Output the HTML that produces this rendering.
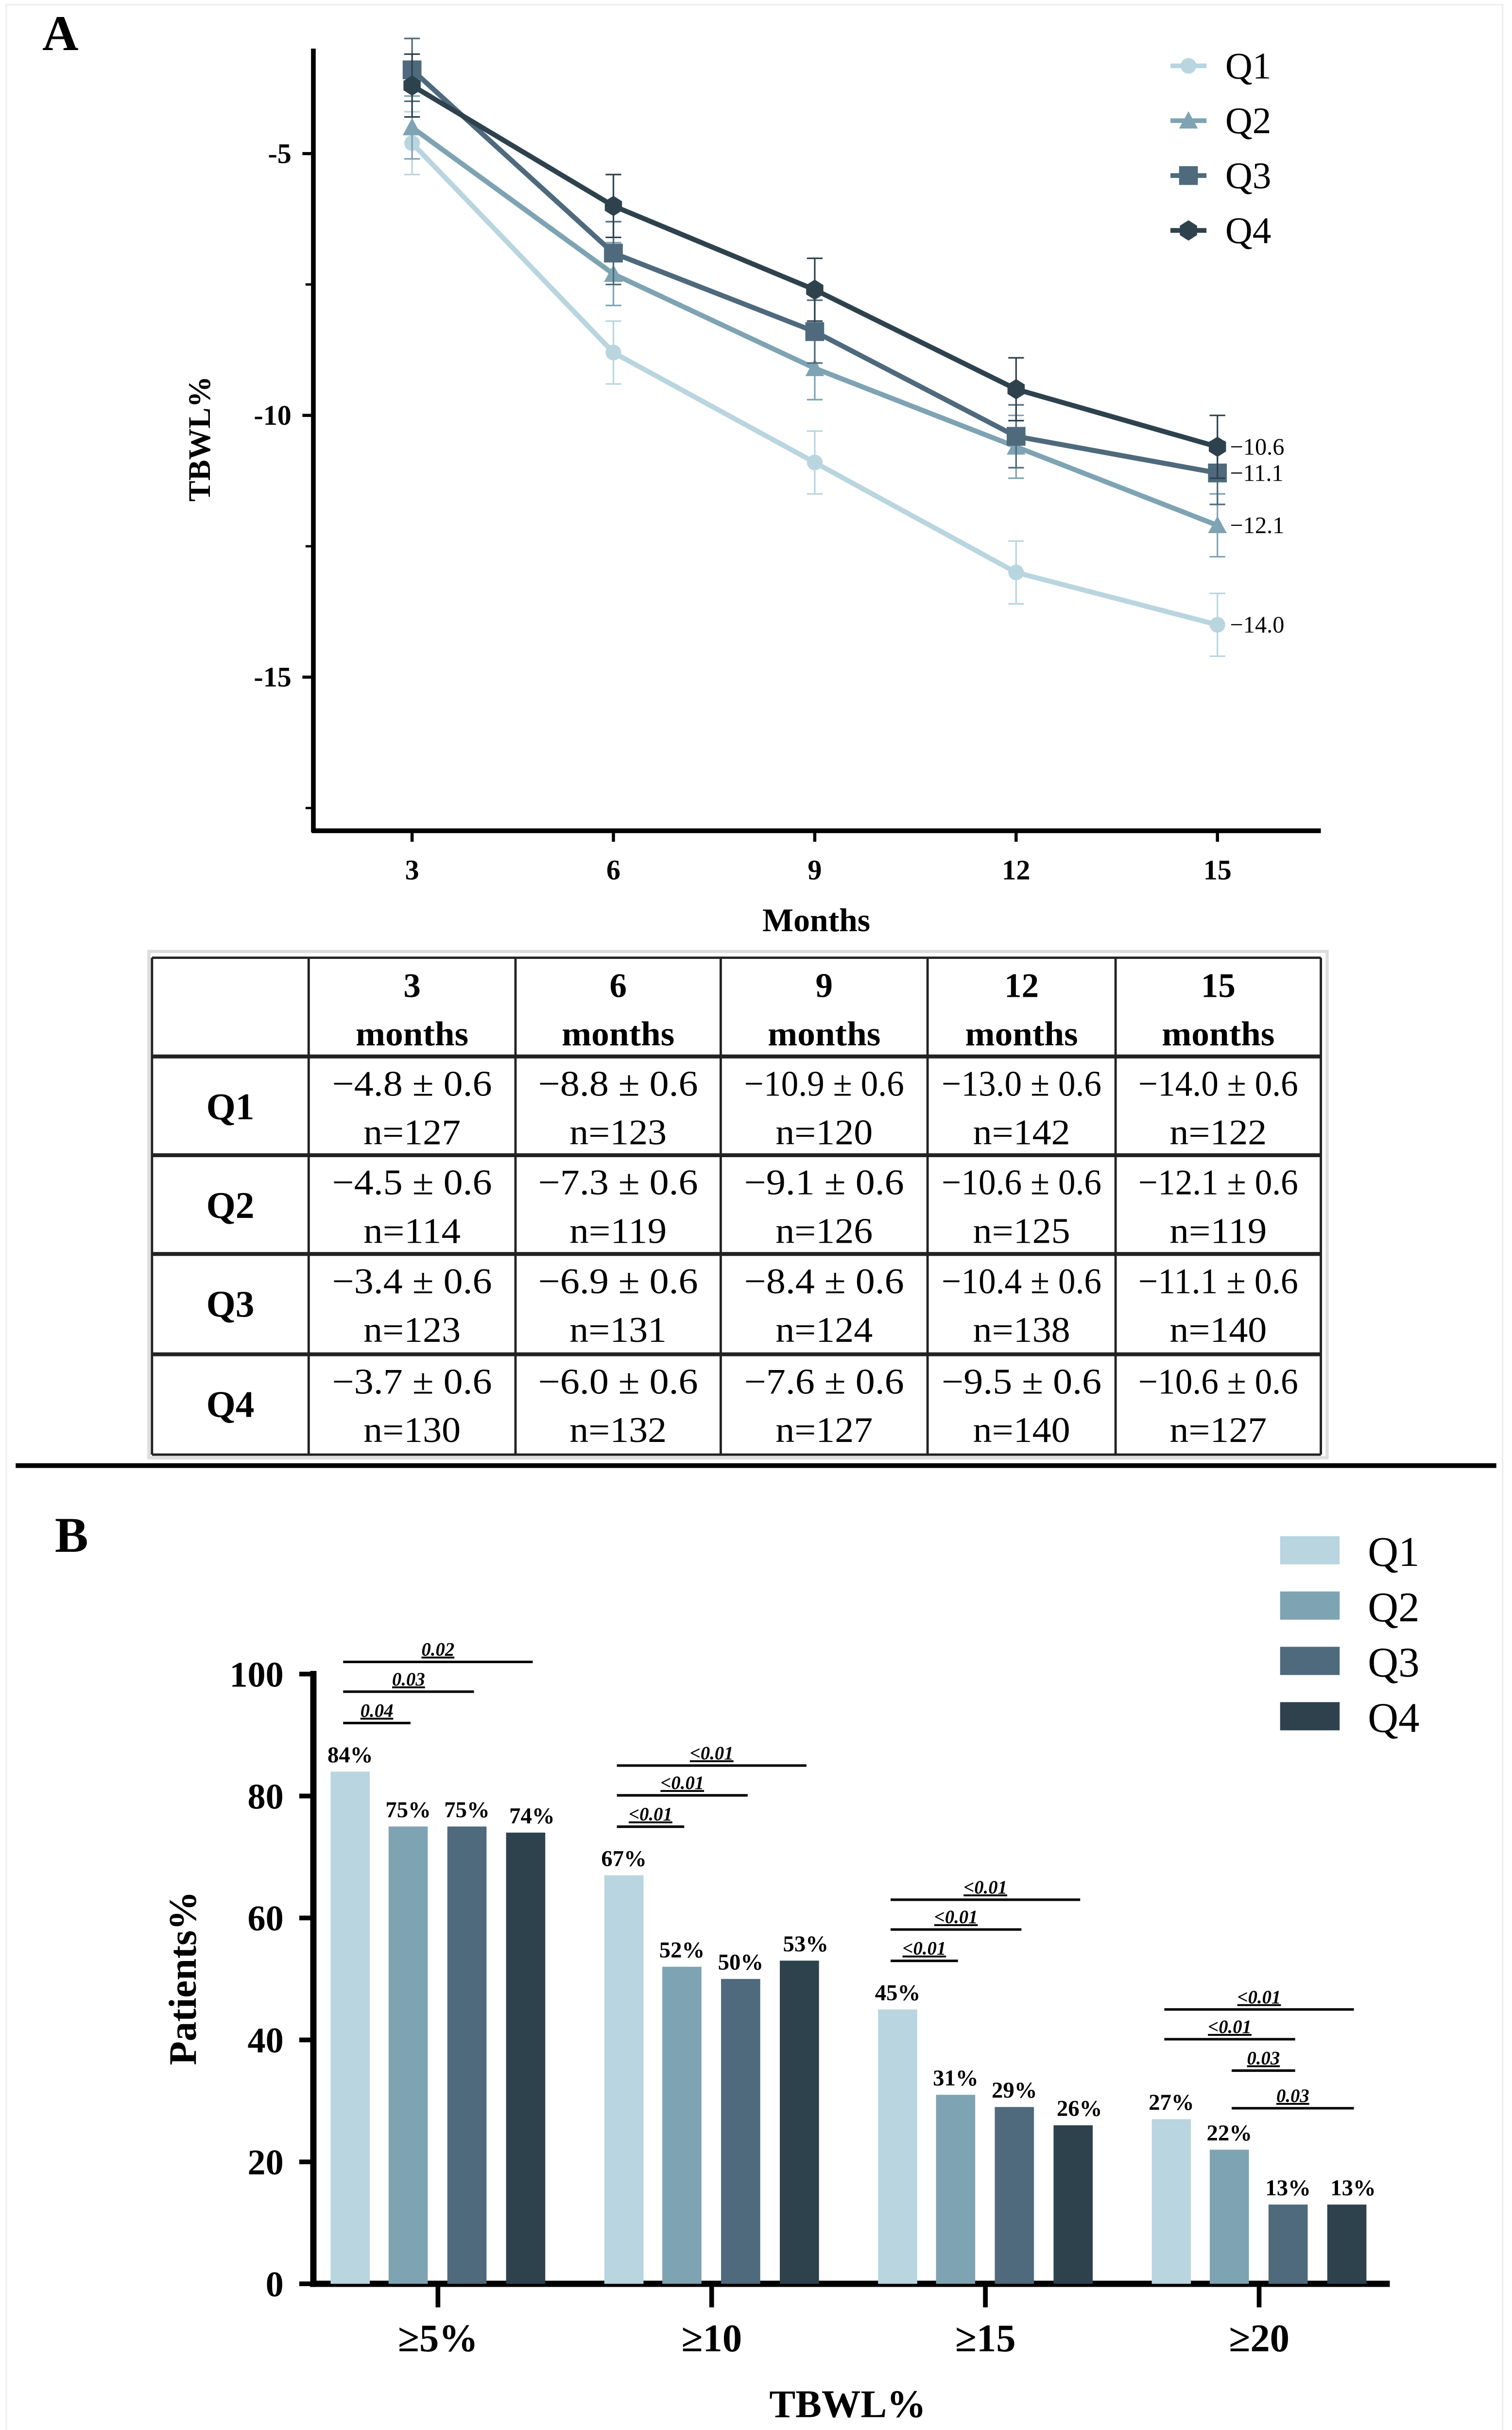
<!DOCTYPE html>
<html><head><meta charset="utf-8"><style>
html,body{margin:0;padding:0;background:#fff;width:3112px;height:5054px;overflow:hidden;}
svg{display:block;}
text{font-family:"Liberation Serif",serif;}
</style></head><body>
<svg id="fig" width="3112" height="5054" viewBox="0 0 965 1567" preserveAspectRatio="none" xmlns="http://www.w3.org/2000/svg">
<rect x="0" y="0" width="965" height="1567" fill="#fff"/>
<rect x="4" y="3" width="955" height="1560" fill="none" stroke="#eee" stroke-width="1"/>
<text x="27" y="32" font-size="32" font-weight="bold">A</text>
<g id="chartA"></g>
<g id="tableA"></g>
<line x1="10" y1="935" x2="955" y2="935" stroke="#000" stroke-width="3"/>
<text x="35" y="990" font-size="32" font-weight="bold">B</text>
<g id="chartB"></g>
</svg>
<script>
const NS="http://www.w3.org/2000/svg";
const months=[3,6,9,12,15];
const seriesNames=["Q1","Q2","Q3","Q4"];
const q1Vals=[-4.8,-8.8,-10.9,-13.0,-14.0];
const q2Vals=[-4.5,-7.3,-9.1,-10.6,-12.1];
const q3Vals=[-3.4,-6.9,-8.4,-10.4,-11.1];
const q4Vals=[-3.7,-6.0,-7.6,-9.5,-10.6];
const errVals=[0.6,0.6,0.6,0.6,0.6];
const q1N=[127,123,120,142,122];
const q2N=[114,119,126,125,119];
const q3N=[123,131,124,138,140];
const q4N=[130,132,127,140,127];
const yTicksA=[-5,-10,-15];
const yMinorA=[-7.5,-12.5,-17.5];
const bCats=["≥5%","≥10","≥15","≥20"];
const bQ1=[84,67,45,27];
const bQ2=[75,52,31,22];
const bQ3=[75,50,29,13];
const bQ4=[74,53,26,13];
const yTicksB=[0,20,40,60,80,100];
const sigLabels=[["0.02","0.03","0.04"],["<0.01","<0.01","<0.01"],["<0.01","<0.01","<0.01"],["<0.01","<0.01","0.03","0.03"]];
const sigPairs=[[[0,3],[0,2],[0,1]],[[0,3],[0,2],[0,1]],[[0,3],[0,2],[0,1]],[[0,3],[0,2],[1,2],[1,3]]];
const sigRise=[[70,51,31],[70,51,31],[70,51,31],[70,51,31,7]];
const colors=["#b9d5df","#7ea3b3","#4e6a7c","#2e424e"];

function el(tag,attrs,parent,txt){const e=document.createElementNS(NS,tag);for(const k in attrs)e.setAttribute(k,attrs[k]);if(txt!==undefined)e.textContent=txt;parent.appendChild(e);return e;}

// ---- Chart A ----
const A=document.getElementById('chartA');
const xA=m=>263+(m-3)*(777-263)/12;
const yA=v=>98+(-5-v)*(265-98)/5;
let ax=el('line',{x1:200,y1:31,x2:200,y2:531,stroke:'#000','stroke-width':3},A);

let bx=el('line',{x1:199,y1:530,x2:843,y2:530,stroke:'#000','stroke-width':3},A);

yTicksA.forEach(v=>{el('line',{x1:193,y1:yA(v),x2:200,y2:yA(v),stroke:'#000','stroke-width':2},A);
 const t=el('text',{x:186,y:yA(v)+6,'font-size':18,'font-weight':'bold','text-anchor':'end'},A,v===-5?'-5':(v===-10?'-10':'-15'));
 });
yMinorA.forEach(v=>el('line',{x1:195,y1:yA(v),x2:200,y2:yA(v),stroke:'#000','stroke-width':1.5},A));
months.forEach(m=>{el('line',{x1:xA(m),y1:530,x2:xA(m),y2:537,stroke:'#000','stroke-width':2},A);
 const t=el('text',{x:xA(m),y:561,'font-size':18,'font-weight':'bold','text-anchor':'middle'},A,String(m));
 });
let yl=el('text',{x:0,y:0,'font-size':20,'font-weight':'bold','text-anchor':'middle',transform:'translate(134,280) rotate(-90)'},A,'TBWL%');

let xl=el('text',{x:521,y:594,'font-size':21,'font-weight':'bold','text-anchor':'middle'},A,'Months');

const allA=[q1Vals,q2Vals,q3Vals,q4Vals];
function marker(i,x,y,parent){
 if(i===0) return el('circle',{cx:x,cy:y,r:5,fill:colors[0]},parent);
 if(i===1) return el('polygon',{points:`${x},${y-6} ${x+6},${y+5} ${x-6},${y+5}`,fill:colors[1]},parent);
 if(i===2) return el('rect',{x:x-6,y:y-6,width:12,height:12,fill:colors[2]},parent);
 return el('polygon',{points:`${x},${y-6.5} ${x+5.5},${y-3} ${x+5.5},${y+3} ${x},${y+6.5} ${x-5.5},${y+3} ${x-5.5},${y-3}`,fill:colors[3]},parent);
}
allA.forEach((vals,i)=>{
 const g=el('g',{},A);
 
 
 const pts=vals.map((v,j)=>xA(months[j])+','+yA(v)).join(' ');
 el('polyline',{points:pts,fill:'none',stroke:colors[i],'stroke-width':3.2},g);
 vals.forEach((v,j)=>{const x=xA(months[j]);const y1=yA(v-errVals[j]),y2=yA(v+errVals[j]);
  el('line',{x1:x,y1:y1,x2:x,y2:y2,stroke:colors[i],'stroke-width':1},g);
  el('line',{x1:x-5,y1:y1,x2:x+5,y2:y1,stroke:colors[i],'stroke-width':1},g);
  el('line',{x1:x-5,y1:y2,x2:x+5,y2:y2,stroke:colors[i],'stroke-width':1},g);
  const mk=marker(i,x,yA(v),g);
  
  
 });
 const last=vals[vals.length-1];
 const lt=el('text',{x:785,y:yA(last)+5,'font-size':15},g,'−'+Math.abs(last).toFixed(1));
 
 const ly=42+i*35;
 const lg=el('g',{},A);
 
 
 el('line',{x1:747,y1:ly,x2:770,y2:ly,stroke:colors[i],'stroke-width':3},lg);
 marker(i,758.5,ly,lg);
 el('text',{x:782,y:ly+8,'font-size':24},lg,seriesNames[i]);
});

// ---- Table ----
const T=document.getElementById('tableA');
const colX=[97,197,329,460,592,712,843];
const rowY=[611,674,737,800,864,928];
el('rect',{x:95,y:607,width:752,height:323,fill:'none',stroke:'#ddd','stroke-width':2},T);
colX.forEach(x=>el('line',{x1:x,y1:611,x2:x,y2:928,stroke:'#222','stroke-width':1.5},T));
rowY.forEach((y,k)=>el('line',{x1:97,y1:y,x2:843,y2:y,stroke:'#222','stroke-width':(k===0||k===5)?1.5:2.5},T));
months.forEach((m,j)=>{const cx=(colX[j+1]+colX[j+2])/2;
 const h=el('text',{x:cx,y:636,'font-size':22,'font-weight':'bold','text-anchor':'middle'},T,String(m));
 
 el('text',{x:cx,y:667,'font-size':22,'font-weight':'bold','text-anchor':'middle',textLength:72,lengthAdjust:'spacingAndGlyphs'},T,'months');});
const allN=[q1N,q2N,q3N,q4N];
allA.forEach((vals,i)=>{const y0=rowY[i+1];
 const rl=el('text',{x:147,y:y0+40,'font-size':24,'font-weight':'bold','text-anchor':'middle'},T,seriesNames[i]);
 
 vals.forEach((v,j)=>{const cx=(colX[j+1]+colX[j+2])/2;
  const s='−'+Math.abs(v).toFixed(1)+' ± 0.6';
  const c=el('text',{x:cx,y:y0+25,'font-size':23,'text-anchor':'middle',textLength:s.length>11?112:102,lengthAdjust:'spacingAndGlyphs'},T,s);
  
  el('text',{x:cx,y:y0+56,'font-size':23,'text-anchor':'middle',textLength:62,lengthAdjust:'spacingAndGlyphs'},T,'n='+allN[i][j]);
 });
});

// ---- Chart B ----
const B=document.getElementById('chartB');
const yB=v=>1457-v*(1457-1068)/100;
const gx=k=>279.5+k*174.7;
const bOff=[-68.5,-31.5,6,43.5];
const barW=25;
let by=el('line',{x1:200,y1:1066,x2:200,y2:1459,stroke:'#000','stroke-width':4},B);

let bxx=el('line',{x1:198,y1:1457,x2:887,y2:1457,stroke:'#000','stroke-width':4},B);

yTicksB.forEach(v=>{el('line',{x1:191,y1:yB(v),x2:200,y2:yB(v),stroke:'#000','stroke-width':3},B);
 const t=el('text',{x:181,y:yB(v)+8,'font-size':23,'font-weight':'bold','text-anchor':'end'},B,String(v));
 });
const allB=[bQ1,bQ2,bQ3,bQ4];
bCats.forEach((c,k)=>{const cx=gx(k);
 el('line',{x1:cx,y1:1457,x2:cx,y2:1472,stroke:'#000','stroke-width':3},B);
 const t=el('text',{x:cx,y:1500,'font-size':25,'font-weight':'bold','text-anchor':'middle'},B,c);
 
 allB.forEach((vals,i)=>{const x=gx(k)+bOff[i];
  const r=el('rect',{x:x,y:yB(vals[k]),width:barW,height:1457-yB(vals[k]),fill:colors[i]},B);
  
  
  const lt=el('text',{x:x+barW/2+(i===3?4:0),y:yB(vals[k])-6,'font-size':14.5,'font-weight':'bold','text-anchor':'middle'},B,vals[k]+'%');
  
 });
 const maxV=Math.max(bQ1[k],bQ2[k],bQ3[k],bQ4[k]);
 sigPairs[k].forEach((p,s)=>{
  const y=yB(maxV)-sigRise[k][s];
  const x1=gx(k)+bOff[p[0]]+(p[0]===0?8:14), x2=gx(k)+bOff[p[1]]+barW-(p[1]===1?11:8);
  const sg=el('g',{},B);
  
  
  el('line',{x1:x1,y1:y,x2:x2,y2:y,stroke:'#000','stroke-width':1.6},sg);
  el('text',{x:(x1+x2)/2,y:y-4,'font-size':12,'font-weight':'bold','font-style':'italic','text-anchor':'middle','text-decoration':'underline'},sg,sigLabels[k][s]);
 });
});
let bxl=el('text',{x:541,y:1542,'font-size':25,'font-weight':'bold','text-anchor':'middle'},B,'TBWL%');

let byl=el('text',{x:0,y:0,'font-size':25,'font-weight':'bold','text-anchor':'middle',transform:'translate(125,1262) rotate(-90)'},B,'Patients%');

seriesNames.forEach((n,i)=>{const y=980+i*35.3;
 const lg=el('g',{},B);
 
 
 el('rect',{x:817,y:y,width:38,height:18,fill:colors[i]},lg);
 el('text',{x:873,y:y+19,'font-size':27},lg,n);
});
</script>
</body></html>
